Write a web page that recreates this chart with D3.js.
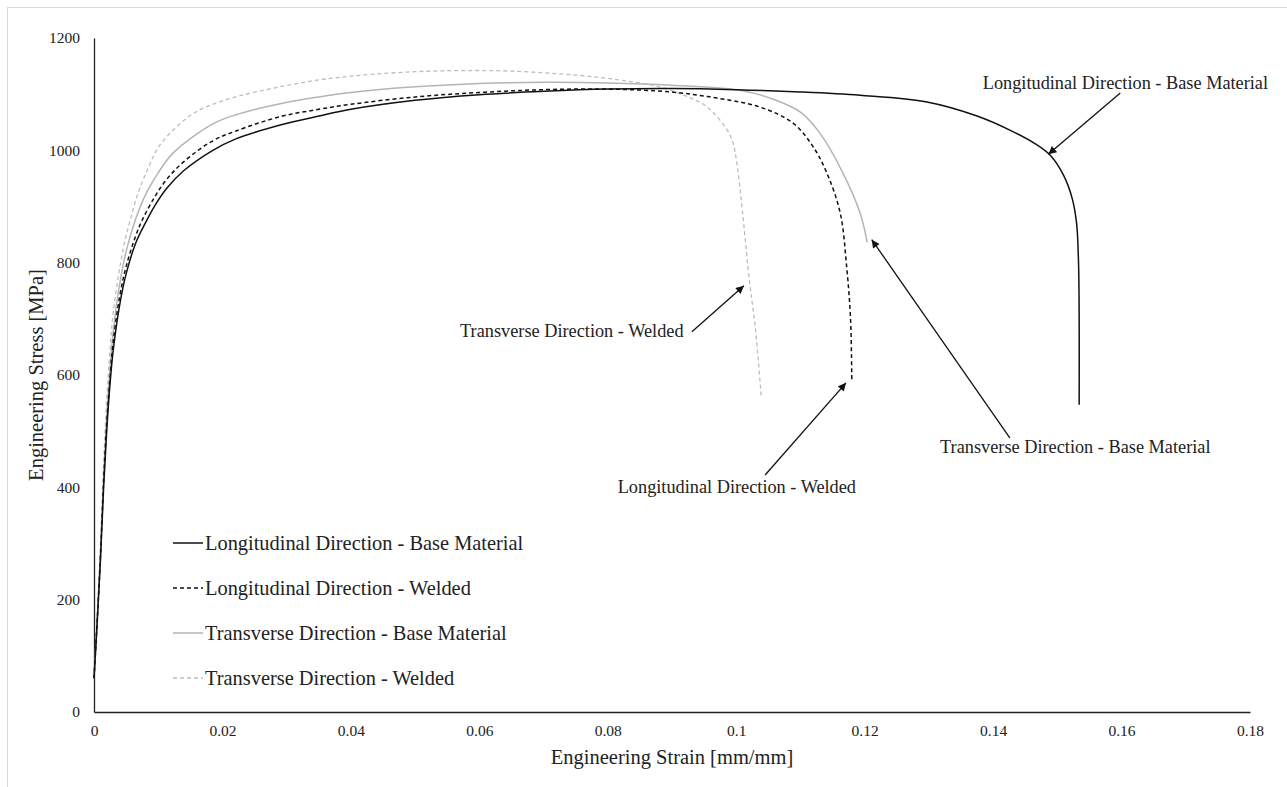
<!DOCTYPE html>
<html>
<head>
<meta charset="utf-8">
<script src="https://cdn.jsdelivr.net/npm/d3@7"></script>
<style>
  body { margin: 0; background: #fff; }
  svg text { font-family: "Liberation Serif", "Times New Roman", serif; fill: #222; }
  .axis path { stroke: #222; stroke-width: 1.3; }
  .axis line { display: none; }
</style>
</head>
<body>
<script>
// *************************************************** //
// chart data (strain [mm/mm], stress [MPa])
var seriesNames = ["Longitudinal Direction - Base Material", "Longitudinal Direction - Welded",
                   "Transverse Direction - Base Material", "Transverse Direction - Welded"];

var longBase = [[0,60],[0.0005,160],[0.001,270],[0.0015,400],[0.002,505],[0.0025,585],[0.003,645],[0.004,725],
  [0.005,780],[0.0065,835],[0.0082,875],[0.0095,902],[0.0113,932],[0.014,964],[0.0185,1000],[0.022,1020],
  [0.029,1045],[0.035,1061],[0.04,1073],[0.05,1089],[0.06,1099],[0.07,1105],[0.08,1109],[0.09,1110],
  [0.1,1108],[0.11,1104],[0.1193,1098],[0.1297,1086],[0.1375,1061],[0.1426,1036],[0.1465,1012],
  [0.149,990],[0.151,955],[0.1523,915],[0.153,870],[0.1533,800],[0.1534,700],[0.1534,547]];

var longWelded = [[0,60],[0.0005,162],[0.001,275],[0.0015,410],[0.002,515],[0.0025,595],[0.003,660],[0.004,740],
  [0.005,793],[0.0065,848],[0.0076,878],[0.0095,918],[0.0113,948],[0.014,980],[0.0185,1017],[0.022,1034],
  [0.029,1060],[0.035,1073],[0.04,1082],[0.05,1095],[0.06,1103],[0.07,1108],[0.08,1109],[0.0897,1104],
  [0.097,1093],[0.1037,1077],[0.1089,1048],[0.112,1006],[0.1141,960],[0.1162,888],[0.1172,792],
  [0.1178,700],[0.118,587]];

var transBase = [[0,60],[0.0005,165],[0.001,280],[0.0015,420],[0.002,530],[0.0025,612],[0.003,678],[0.004,762],
  [0.005,820],[0.0065,878],[0.0082,925],[0.01,960],[0.0123,995],[0.0185,1047],[0.022,1063],[0.029,1083],
  [0.035,1095],[0.04,1103],[0.05,1113],[0.06,1119],[0.07,1121],[0.08,1120],[0.09,1116],[0.1006,1107],
  [0.106,1090],[0.11,1068],[0.113,1031],[0.1166,960],[0.1193,888],[0.1204,836]];

var transWelded = [[0,60],[0.0005,170],[0.001,292],[0.0015,442],[0.002,560],[0.0025,645],[0.003,712],[0.0045,822],
  [0.0055,870],[0.0069,925],[0.0085,970],[0.0103,1010],[0.015,1062],[0.02,1088],[0.0321,1120],[0.04,1132],
  [0.05,1140],[0.057,1142],[0.065,1141],[0.075,1134],[0.082,1125],[0.088,1113],[0.0925,1095],[0.0955,1077],
  [0.0986,1036],[0.0995,1013],[0.1001,977],[0.101,888],[0.102,774],[0.103,680],[0.1039,561]];

// axis ticks
var xTicks = [0, 0.02, 0.04, 0.06, 0.08, 0.1, 0.12, 0.14, 0.16, 0.18];
var xTickLabels = ["0", "0.02", "0.04", "0.06", "0.08", "0.1", "0.12", "0.14", "0.16", "0.18"];
var yTicks = [0, 200, 400, 600, 800, 1000, 1200];

// annotation labels: series index, label centre, arrow tail and arrow tip (strain, stress)
var noteSeries = [0, 2, 1, 3];
var noteText = [[0.1606, 1110], [0.1528, 462], [0.1001, 390], [0.0744, 668]];
var noteTail = [[0.1598, 1102], [0.1426, 488], [0.1045, 422], [0.0931, 677]];
var noteTip = [[0.1486, 993], [0.1211, 841], [0.1171, 586], [0.1012, 759]];

(function(){
  // *************************************************** //
  // pseudo-global variables
  var width = 1287,
      height = 787;

  var styles = [
    {stroke: "#111", dash: null, width: 1.5},
    {stroke: "#111", dash: "4,3", width: 1.5},
    {stroke: "#b4b4b4", dash: null, width: 1.5},
    {stroke: "#bdbdbd", dash: "4,3", width: 1.3}
  ];

  window.onload = setChart();

  // *************************************************** //
  function setChart(){
    var svg = d3.select("body")
      .append("svg")
      .attr("width", width)
      .attr("height", height);

    // outer frame
    svg.append("rect")
      .attr("x", 7.5)
      .attr("y", 7.5)
      .attr("width", width)
      .attr("height", height)
      .attr("fill", "none")
      .attr("stroke", "#d9d9d9");

    var x = d3.scaleLinear().domain([0, 0.18]).range([94, 1250]);
    var y = d3.scaleLinear().domain([0, 1200]).range([712, 38]);

    setAxes(svg, x, y);
    setLines(svg, x, y);
    setLegend(svg);
    setNotes(svg, x, y);
  };

  // *************************************************** //
  function setAxes(svg, x, y){
    var xAxis = d3.axisBottom(x)
      .tickValues(xTicks)
      .tickSize(0)
      .tickPadding(13)
      .tickFormat(function(d, i){ return xTickLabels[i]; });

    svg.append("g")
      .attr("class", "axis")
      .attr("transform", "translate(0,712)")
      .call(xAxis);

    var yAxis = d3.axisLeft(y)
      .tickValues(yTicks)
      .tickSize(0)
      .tickPadding(14)
      .tickFormat(d3.format("d"));

    svg.append("g")
      .attr("class", "axis")
      .attr("transform", "translate(94,0)")
      .call(yAxis);

    // let the css font apply to tick labels
    svg.selectAll(".axis")
      .attr("font-family", null)
      .attr("font-size", null)
      .selectAll("text")
      .attr("font-size", "15.5px")
      .attr("fill", "#222");

    // axis titles
    svg.append("text")
      .attr("x", 672)
      .attr("y", 764)
      .attr("text-anchor", "middle")
      .attr("font-size", "20.5px")
      .text("Engineering Strain [mm/mm]");

    svg.append("text")
      .attr("transform", "translate(43,375) rotate(-90)")
      .attr("text-anchor", "middle")
      .attr("font-size", "20.5px")
      .text("Engineering Stress [MPa]");
  };

  // *************************************************** //
  function setLines(svg, x, y){
    var line = d3.line()
      .x(function(d){ return x(d[0]); })
      .y(function(d){ return y(d[1]); })
      .curve(d3.curveCatmullRom.alpha(0.5));

    var allSeries = [longBase, longWelded, transBase, transWelded];

    // draw grey curves first so the black ones sit on top
    [3, 2, 1, 0].forEach(function(i){
      svg.append("path")
        .datum(allSeries[i])
        .attr("class", "curve")
        .attr("d", line)
        .attr("fill", "none")
        .attr("stroke", styles[i].stroke)
        .attr("stroke-width", styles[i].width)
        .attr("stroke-dasharray", styles[i].dash);
    });
  };

  // *************************************************** //
  function setLegend(svg){
    var rows = svg.selectAll(".legendRow")
      .data(seriesNames)
      .enter()
      .append("g")
      .attr("class", "legendRow")
      .attr("transform", function(d, i){ return "translate(173," + (543 + i * 45) + ")"; });

    rows.append("line")
      .attr("x1", 0)
      .attr("x2", 30)
      .attr("stroke", function(d, i){ return styles[i].stroke; })
      .attr("stroke-width", function(d, i){ return styles[i].width; })
      .attr("stroke-dasharray", function(d, i){ return styles[i].dash; });

    rows.append("text")
      .attr("x", 32)
      .attr("y", 6.5)
      .attr("font-size", "20.4px")
      .text(function(d){ return d; });
  };

  // *************************************************** //
  function setNotes(svg, x, y){
    svg.append("defs")
      .append("marker")
      .attr("id", "arrow")
      .attr("viewBox", "0 0 10 10")
      .attr("refX", 10)
      .attr("refY", 5)
      .attr("markerWidth", 9)
      .attr("markerHeight", 8)
      .attr("markerUnits", "userSpaceOnUse")
      .attr("orient", "auto")
      .append("path")
      .attr("d", "M0,0L10,5L0,10Z")
      .attr("fill", "#111");

    noteSeries.forEach(function(s, i){
      svg.append("text")
        .attr("x", x(noteText[i][0]))
        .attr("y", y(noteText[i][1]))
        .attr("text-anchor", "middle")
        .attr("font-size", "18.3px")
        .text(seriesNames[s]);

      svg.append("line")
        .attr("x1", x(noteTail[i][0]))
        .attr("y1", y(noteTail[i][1]))
        .attr("x2", x(noteTip[i][0]))
        .attr("y2", y(noteTip[i][1]))
        .attr("stroke", "#111")
        .attr("stroke-width", 1.3)
        .attr("marker-end", "url(#arrow)");
    });
  };

})();
</script>
</body>
</html>
